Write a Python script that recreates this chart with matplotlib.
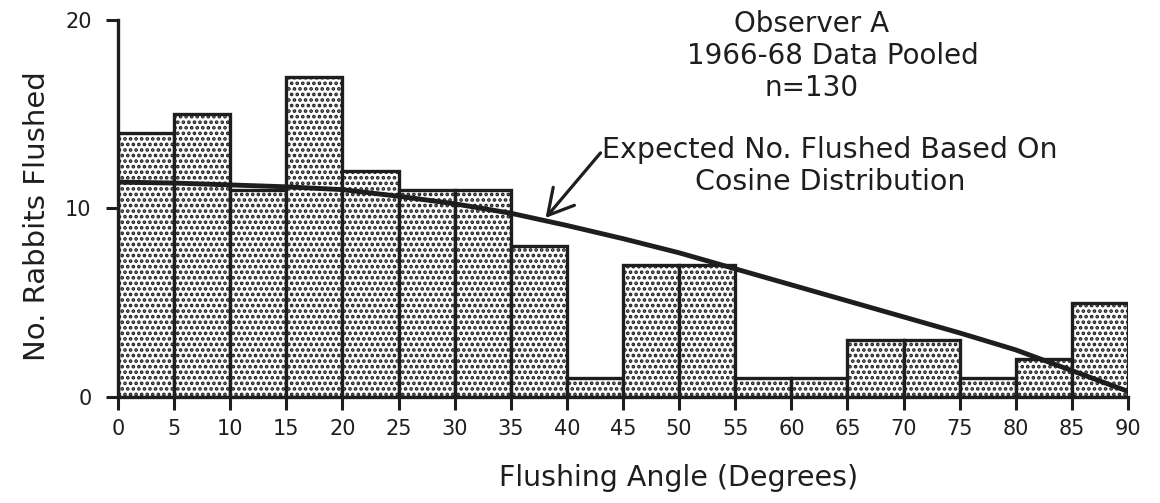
import numpy as np
import matplotlib
matplotlib.use('Agg')
import matplotlib.pyplot as plt

# flushing angle bins (degrees) and counts of rabbits flushed, n = 130
bin_edges = [0, 5, 10, 15, 20, 25, 30, 35, 40, 45, 50, 55, 60, 65, 70, 75, 80, 85, 90]
counts = [14, 15, 11, 17, 12, 11, 11, 8, 1, 7, 7, 1, 1, 3, 3, 1, 2, 5]

# expected no. flushed (cosine distribution)
curve_angle = [0, 5, 10, 15, 20, 25, 30, 35, 40, 45, 50, 55, 60, 65, 70, 75, 80, 85, 90]
curve_value = [11.4, 11.35, 11.25, 11.15, 11.0, 10.65, 10.25, 9.75, 9.1, 8.4,
               7.65, 6.8, 5.95, 5.1, 4.25, 3.4, 2.5, 1.4, 0.3]

x_ticks = list(range(0, 91, 5))
y_ticks = [0, 10, 20]

title_lines = ['Observer A', '1966-68 Data Pooled', 'n=130']
note_text = 'Expected No. Flushed Based On\nCosine Distribution'

ink = '#1e1e1e'
plt.rcParams['font.family'] = ['DejaVu Sans']
plt.rcParams['hatch.linewidth'] = 1.8
plt.rcParams['hatch.color'] = ink

fig = plt.figure(figsize=(11.6, 5.03), dpi=100)
ax = fig.add_axes([0.1017, 0.2107, 0.8707, 0.7496])

lefts = np.array(bin_edges[:-1])
widths = np.diff(bin_edges)
ax.bar(lefts, counts, width=widths, align='edge', facecolor='white',
       edgecolor=ink, linewidth=2.4, hatch='...', zorder=2)

ax.plot(curve_angle, curve_value, color=ink, linewidth=3.5, zorder=3,
        solid_capstyle='round')

ax.set_xlim(0, 90)
ax.set_ylim(0, 20)
ax.set_xticks(x_ticks)
ax.set_yticks(y_ticks)
ax.tick_params(axis='both', direction='out', length=9, width=2.2, color=ink,
               labelsize=15, labelcolor=ink)
ax.tick_params(axis='x', pad=7)
ax.tick_params(axis='y', pad=10)
for s in ['top', 'right']:
    ax.spines[s].set_visible(False)
for s in ['left', 'bottom']:
    ax.spines[s].set_linewidth(2.4)
    ax.spines[s].set_color(ink)

fig.text(37 / 1160, 1 - 216 / 503, 'No. Rabbits Flushed', fontsize=21,
         color=ink, ha='center', va='center', rotation=90)
fig.text(679 / 1160, 1 - 478 / 503, 'Flushing Angle (Degrees)', fontsize=20.5,
         color=ink, ha='center', va='center')

# header block
title_pos = [(812, 24), (833, 56), (812, 88)]
for line, (px, py) in zip(title_lines, title_pos):
    fig.text(px / 1160, 1 - py / 503, line, fontsize=20, color=ink,
             ha='center', va='center')

# curve label with arrow
fig.text(830 / 1160, 1 - 166 / 503, note_text, fontsize=20.5, color=ink,
         ha='center', va='center', multialignment='center', linespacing=1.2)
ax.annotate('', xy=(38.1, 9.5), xytext=(43.0, 12.95),
            arrowprops=dict(arrowstyle='->,head_length=0.9,head_width=0.5',
                            color=ink, lw=2.3, mutation_scale=20,
                            shrinkA=0, shrinkB=0),
            annotation_clip=False, zorder=4)

fig.savefig('out.png', dpi=100, facecolor='white')
